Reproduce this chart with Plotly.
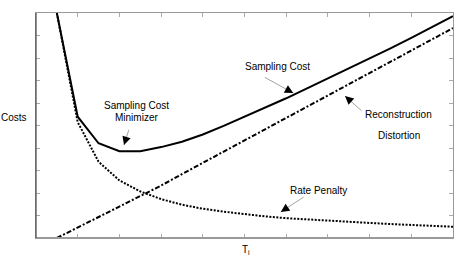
import plotly.graph_objects as go

t_values = [0.5, 1.0, 1.5, 2.0, 2.5, 3.0, 3.5, 4.0, 4.5, 5.0, 5.5, 6.0, 6.5, 7.0, 7.5, 8.0, 8.5, 9.0, 9.5, 10.0]
sampling_cost = [10.0, 5.39, 4.21, 3.86, 3.86, 4.04, 4.28, 4.60, 4.98, 5.38, 5.79, 6.21, 6.65, 7.09, 7.53, 7.98, 8.43, 8.89, 9.36, 9.86]
reconstruction_distortion = [0.0, 0.46, 0.92, 1.38, 1.84, 2.33, 2.84, 3.34, 3.84, 4.34, 4.84, 5.34, 5.84, 6.34, 6.84, 7.34, 7.84, 8.34, 8.84, 9.33]
rate_penalty = [10.0, 5.15, 3.39, 2.56, 2.07, 1.73, 1.48, 1.30, 1.17, 1.06, 0.96, 0.88, 0.82, 0.76, 0.71, 0.67, 0.62, 0.58, 0.54, 0.50]

FONT = "Liberation Sans, Arial, sans-serif"

fig = go.Figure()
fig.add_trace(go.Scatter(x=t_values, y=reconstruction_distortion, mode="lines",
                         line=dict(color="black", width=2, dash="5px,2px,2px,2px")))
fig.add_trace(go.Scatter(x=t_values, y=rate_penalty, mode="lines",
                         line=dict(color="black", width=2, dash="2px,1.5px")))
fig.add_trace(go.Scatter(x=t_values, y=sampling_cost, mode="lines",
                         line=dict(color="black", width=2)))

axis_common = dict(showgrid=False, zeroline=False, showticklabels=False,
                   ticks="inside", ticklen=4, tickwidth=1, tickcolor="#aaaaaa",
                   mirror="ticks", showline=True, linecolor="#999999", linewidth=1)
fig.update_xaxes(range=[0, 10], dtick=1, tick0=0, **axis_common)
fig.update_yaxes(range=[0, 10], dtick=1, tick0=0, **axis_common)

# frame lines with distinct shades
fig.add_shape(type="line", xref="paper", yref="paper", x0=0, x1=1, y0=0, y1=0,
              line=dict(color="#9a9a9a", width=2))
fig.add_shape(type="line", xref="paper", yref="paper", x0=0, x1=0, y0=0, y1=1,
              line=dict(color="#555555", width=1.3))

annotations = []
def label(text, x, y):
    annotations.append(dict(text=text, x=x, y=y, xref="x", yref="y", showarrow=False,
                            xanchor="center", yanchor="middle",
                            font=dict(family=FONT, size=10, color="black")))

def arrow(x, y, ax, ay):
    # thin gray shaft
    annotations.append(dict(text="", x=x, y=y, xref="x", yref="y", ax=ax, ay=ay,
                            showarrow=True, arrowhead=0, arrowwidth=0.8,
                            arrowcolor="#8a8a8a", standoff=0))
    # black head
    L = (ax ** 2 + ay ** 2) ** 0.5
    annotations.append(dict(text="", x=x, y=y, xref="x", yref="y",
                            ax=ax / L * 5, ay=ay / L * 5,
                            showarrow=True, arrowhead=2, arrowwidth=1, arrowsize=1.7,
                            arrowcolor="black", standoff=0))

label("Sampling Cost", 5.78, 7.63)
arrow(6.17, 6.44, -30, -16.6)

label("Sampling Cost", 2.40, 5.87)
label("Minimizer", 2.41, 5.36)
arrow(2.11, 4.13, 5.3, -16.7)

label("Reconstruction", 8.70, 5.47)
label("Distortion", 8.70, 4.54)
arrow(7.41, 6.31, 18, 16)

label("Rate Penalty", 6.77, 2.13)
arrow(5.87, 1.16, 24.3, -15.7)

annotations.append(dict(text="Costs", xref="paper", yref="paper",
                        x=(14 - 36) / 417, y=(238 - 117.5) / 225, showarrow=False,
                        xanchor="center", yanchor="middle",
                        font=dict(family=FONT, size=10, color="black")))
annotations.append(dict(text="T<sub>i</sub>", xref="paper", yref="paper",
                        x=(246 - 36) / 417, y=(238 - 250) / 225, showarrow=False,
                        xanchor="center", yanchor="middle",
                        font=dict(family=FONT, size=10, color="black")))

fig.update_layout(width=463, height=260, margin=dict(l=36, r=10, t=13, b=22),
                  paper_bgcolor="white", plot_bgcolor="white", showlegend=False,
                  annotations=annotations)

fig.write_html("out.html", config={"displayModeBar": False},
               post_script="document.body.style.margin='0';document.body.style.overflow='hidden';")
